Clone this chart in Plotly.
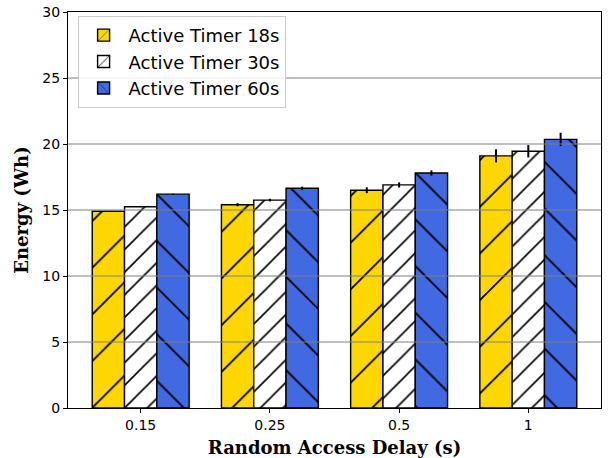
import plotly.graph_objects as go

delays = ["0.15", "0.25", "0.5", "1"]
series_names = ["Active Timer 18s", "Active Timer 30s", "Active Timer 60s"]
energy = [
    [14.9, 15.4, 16.5, 19.1],
    [15.25, 15.75, 16.9, 19.45],
    [16.2, 16.65, 17.8, 20.35],
]
errors = [
    [0.03, 0.12, 0.22, 0.5],
    [0.03, 0.1, 0.19, 0.47],
    [0.03, 0.12, 0.2, 0.5],
]
y_ticks = [0, 5, 10, 15, 20, 25, 30]

fills = ["#FFD700", "#FFFFFF", "#4169E1"]
hatches = [("/", 33, 0.055), ("/", 16, 0.1), ("\\", 33, 0.055)]
offsets = [-0.25, 0.0, 0.25]

fig = go.Figure()
for name, vals, errs, fill, (shape, size, sol), off in zip(
        series_names, energy, errors, fills, hatches, offsets):
    fig.add_trace(go.Bar(
        x=[i + off for i in range(len(delays))],
        y=vals,
        width=0.25,
        name=name,
        marker=dict(
            color=fill,
            line=dict(color="black", width=1.4),
            pattern=dict(shape=shape, size=size, solidity=sol,
                         fgcolor="black", bgcolor=fill, fillmode="replace"),
        ),
        error_y=dict(type="data", array=errs, color="black",
                     thickness=2, width=0),
    ))

# horizontal grid drawn over the bars
for t in y_ticks[1:-1]:
    fig.add_shape(type="line", xref="paper", yref="y", x0=0, x1=1, y0=t, y1=t,
                  line=dict(color="#808080", width=1), layer="above")

fig.update_layout(
    width=608, height=458,
    margin=dict(l=68, r=7, t=12, b=50),
    paper_bgcolor="white", plot_bgcolor="white",
    barmode="overlay",
    font=dict(family="DejaVu Sans", size=14, color="black"),
    showlegend=True,
    legend=dict(
        x=0.018, y=0.99, xanchor="left", yanchor="top",
        bgcolor="rgba(255,255,255,0.85)", bordercolor="#cccccc", borderwidth=1,
        font=dict(family="DejaVu Sans", size=18, color="black"),
        itemwidth=40,
    ),
    xaxis=dict(
        range=[-0.5625, 3.5625],
        tickmode="array", tickvals=list(range(len(delays))), ticktext=delays,
        showgrid=False, zeroline=False,
        showline=True, linecolor="black", linewidth=1.2, mirror=True,
        ticks="outside", ticklen=4, tickcolor="black",
        automargin=False,
        title=dict(text="<b>Random Access Delay (s)</b>",
                   font=dict(family="DejaVu Serif", size=18), standoff=9),
    ),
    yaxis=dict(
        range=[0, 30],
        tickmode="array", tickvals=y_ticks,
        showgrid=False, zeroline=False,
        showline=True, linecolor="black", linewidth=1.2, mirror=True,
        ticks="outside", ticklen=4, tickcolor="black",
        automargin=False,
        title=dict(text="<b>Energy (Wh)</b>",
                   font=dict(family="DejaVu Serif", size=18), standoff=8),
    ),
)

fig.write_html("out.html")
